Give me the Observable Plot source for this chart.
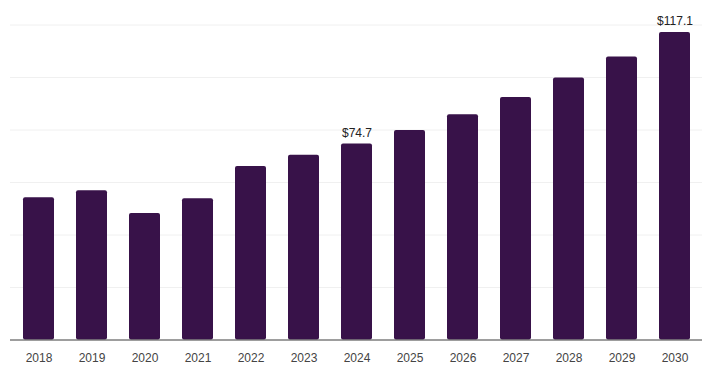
<!DOCTYPE html>
<html>
<head>
<meta charset="utf-8">
<script src="https://cdn.jsdelivr.net/npm/d3@7"></script>
<script src="https://cdn.jsdelivr.net/npm/@observablehq/plot@0.6"></script>
<style>
  html, body { margin: 0; padding: 0; background: #fff; }
  svg { display: block; }
</style>
</head>
<body>
<div id="chart"></div>
<script>
const years = ["2018","2019","2020","2021","2022","2023","2024","2025","2026","2027","2028","2029","2030"];
const values = [54.2, 56.9, 48.2, 53.8, 66.1, 70.4, 74.7, 79.8, 85.8, 92.4, 99.8, 107.8, 117.1];
const labeledYears = ["2024", "2030"];
const gridTicks = [0, 20, 40, 60, 80, 100, 120];

const data = years.map((y, i) => ({year: y, value: values[i]}));
const labeled = data.filter(d => labeledYears.includes(d.year));

const chart = Plot.plot({
  width: 709,
  height: 375,
  marginTop: 24.5,
  marginBottom: 35.5,
  marginLeft: 10,
  marginRight: 7,
  style: {fontFamily: "'Liberation Sans', Arial, sans-serif", fontSize: "12px", background: "#fff"},
  x: {domain: years, paddingInner: 0.42, paddingOuter: 0.2, label: null, axis: null},
  y: {domain: [0, 120], label: null, axis: null},
  marks: [
    Plot.gridY(gridTicks, {stroke: "#f0f0f0", strokeOpacity: 1, strokeWidth: 1}),
    Plot.barY(data, {x: "year", y: "value", fill: "#381249", rx: 2}),
    Plot.ruleY([0], {stroke: "#444", strokeWidth: 1}),
    Plot.axisX({tickSize: 0, tickPadding: 13, fontSize: 12, color: "#444", label: null}),
    Plot.text(labeled, {x: "year", y: "value", text: d => "$" + d.value.toFixed(1), dy: -11, fontSize: 12, fill: "#222"})
  ]
});
document.getElementById("chart").appendChild(chart);
</script>
</body>
</html>
